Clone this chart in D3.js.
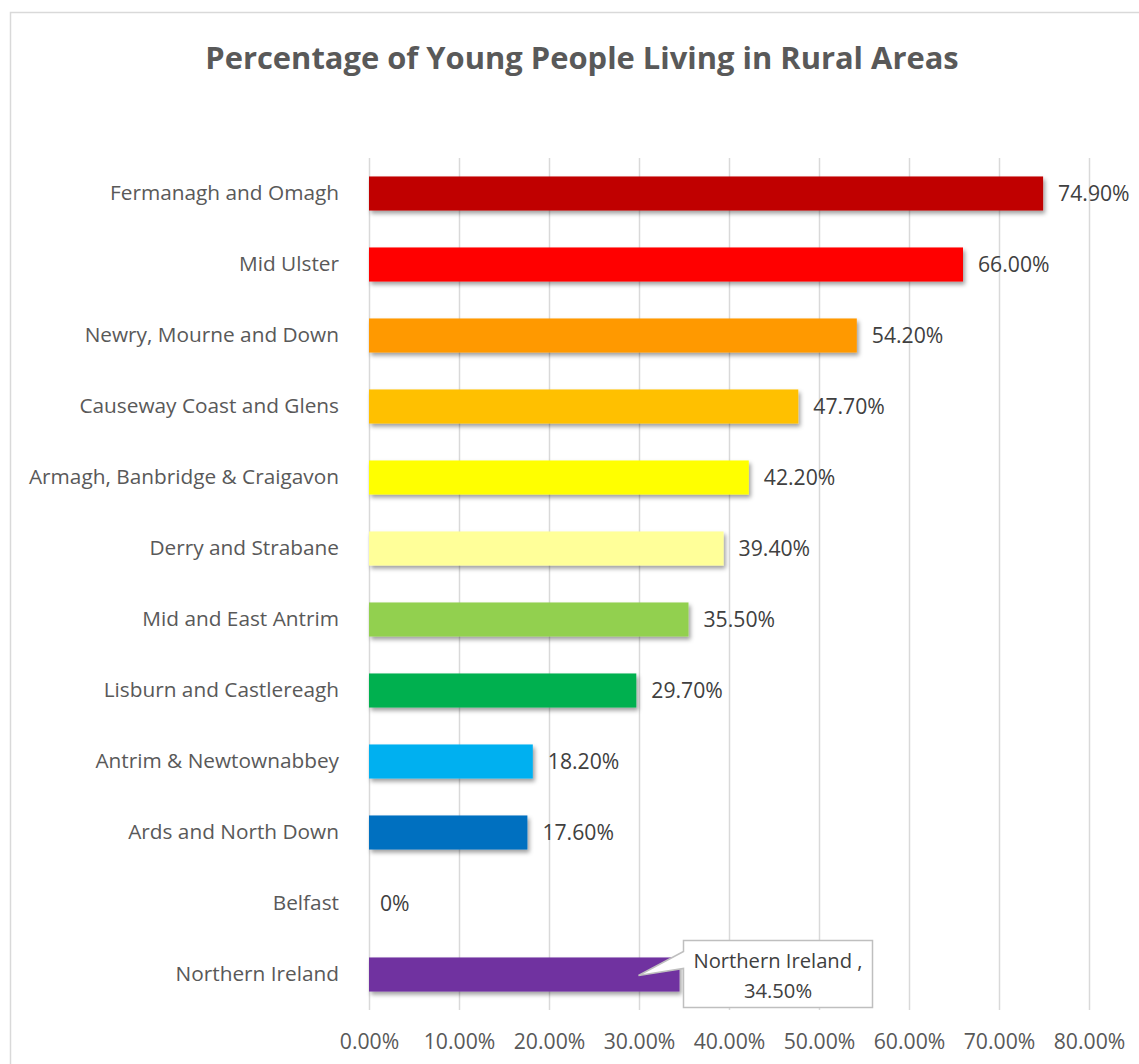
<!DOCTYPE html>
<html>
<head>
<meta charset="utf-8">
<script src="https://cdn.jsdelivr.net/npm/d3@7"></script>
<style>
  html, body { margin: 0; padding: 0; background: #fff; }
  svg { display: block; }
  text { font-family: "Open Sans", "Noto Sans", sans-serif; }
</style>
</head>
<body>
<svg id="chart" width="1139" height="1064"></svg>
<script>
const categories = [
  "Fermanagh and Omagh",
  "Mid Ulster",
  "Newry, Mourne and Down",
  "Causeway Coast and Glens",
  "Armagh, Banbridge & Craigavon",
  "Derry and Strabane",
  "Mid and East Antrim",
  "Lisburn and Castlereagh",
  "Antrim & Newtownabbey",
  "Ards and North Down",
  "Belfast",
  "Northern Ireland"
];
const values = [74.9, 66.0, 54.2, 47.7, 42.2, 39.4, 35.5, 29.7, 18.2, 17.6, 0, 34.5];
const valueLabels = ["74.90%", "66.00%", "54.20%", "47.70%", "42.20%", "39.40%", "35.50%", "29.70%", "18.20%", "17.60%", "0%", ""];
const barColors = ["#C00000", "#FF0000", "#FF9900", "#FFC000", "#FFFF00", "#FFFF99",
                   "#92D050", "#00B050", "#00B0F0", "#0070C0", "#A5A5A5", "#7030A0"];
const tickValues = [0, 10, 20, 30, 40, 50, 60, 70, 80];
const titleText = "Percentage of Young People Living in Rural Areas";
const calloutLines = ["Northern Ireland ,", "34.50%"];

const svg = d3.select("#chart");
const W = 1139, H = 1064;

// chart border
svg.append("rect")
  .attr("x", 10.5).attr("y", 12.5)
  .attr("width", W + 20).attr("height", H + 20)
  .attr("fill", "#fff").attr("stroke", "#d9d9d9").attr("stroke-width", 1.5);

// shadow filter
const defs = svg.append("defs");
const f = defs.append("filter").attr("id", "shadow")
  .attr("x", "-10%").attr("y", "-30%").attr("width", "130%").attr("height", "180%");
f.append("feDropShadow").attr("dx", 2).attr("dy", 3).attr("stdDeviation", 2.2)
  .attr("flood-color", "#000").attr("flood-opacity", 0.38);

const plot = { left: 369, right: 1089, top: 158, bottom: 1010 };

const x = d3.scaleLinear().domain([0, 80]).range([plot.left, plot.right]);
const y = d3.scaleBand().domain(categories).range([plot.top, plot.bottom])
  .paddingInner(0.52).paddingOuter(0.26);

// title
svg.append("text")
  .attr("x", 582).attr("y", 69)
  .attr("text-anchor", "middle")
  .attr("font-size", 30.9).attr("font-weight", 700)
  .attr("fill", "#595959")
  .text(titleText);

// gridlines
svg.append("g").selectAll("line").data(tickValues).join("line")
  .attr("x1", d => x(d) + 0.5).attr("x2", d => x(d) + 0.5)
  .attr("y1", plot.top).attr("y2", plot.bottom)
  .attr("stroke", "#d9d9d9").attr("stroke-width", 1.5);

// x-axis labels
const xAxis = d3.axisBottom(x).tickValues(tickValues)
  .tickFormat(d => d.toFixed(2) + "%").tickSize(0).tickPadding(0);
const gx = svg.append("g").attr("transform", `translate(0, ${plot.bottom + 24})`).call(xAxis);
gx.select(".domain").remove();
gx.selectAll("text").attr("font-size", 21.2).attr("fill", "#595959")
  .attr("font-family", "'Open Sans', sans-serif");

// y-axis labels
const yAxis = d3.axisLeft(y).tickSize(0).tickPadding(0);
const gy = svg.append("g").attr("transform", `translate(${plot.left - 30}, 0)`).call(yAxis);
gy.select(".domain").remove();
gy.selectAll("text").attr("font-size", 20.8).attr("fill", "#595959")
  .attr("font-family", "'Open Sans', sans-serif");

// bars
const rows = categories.map((c, i) => ({ c, v: values[i], label: valueLabels[i], color: barColors[i] }));
svg.append("g").selectAll("rect").data(rows.filter(d => d.v > 0)).join("rect")
  .attr("x", x(0))
  .attr("y", d => y(d.c))
  .attr("width", d => x(d.v) - x(0))
  .attr("height", y.bandwidth())
  .attr("fill", d => d.color)
  .attr("filter", "url(#shadow)");

// value labels
svg.append("g").selectAll("text").data(rows.filter(d => d.label)).join("text")
  .attr("x", d => x(d.v) + (d.v > 0 ? 15 : 11))
  .attr("y", d => y(d.c) + y.bandwidth() / 2)
  .attr("dy", "0.35em")
  .attr("font-size", 21.2).attr("fill", "#404040")
  .text(d => d.label);

// callout for Northern Ireland
const ni = rows[rows.length - 1];
const barEnd = x(ni.v);
const cy = y(ni.c) + y.bandwidth() / 2;
const bx = barEnd + 4, by = cy - 34, bw = 189, bh = 67;
const tipX = barEnd - 41, tipY = cy + 1;
const cg = svg.append("g");
cg.append("path")
  .attr("d", `M${bx},${by} H${bx + bw} V${by + bh} H${bx} V${by + 28} L${tipX},${tipY} L${bx},${by + 11} Z`)
  .attr("fill", "#fff").attr("stroke", "#bfbfbf").attr("stroke-width", 1.5);
cg.selectAll("text").data(calloutLines).join("text")
  .attr("x", bx + bw / 2)
  .attr("y", (d, i) => by + 20 + i * 30)
  .attr("dy", "0.35em")
  .attr("text-anchor", "middle")
  .attr("font-size", 20.2).attr("fill", "#404040")
  .text(d => d);
</script>
</body>
</html>
